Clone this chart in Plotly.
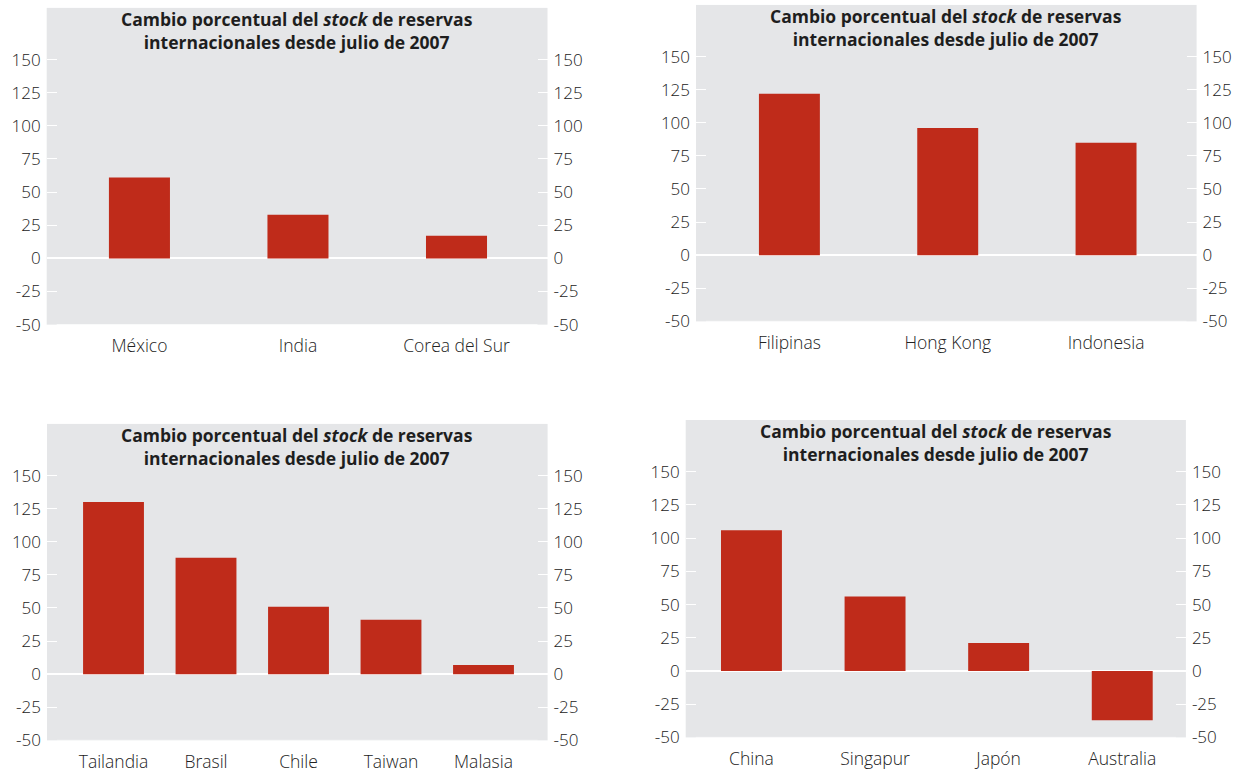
import plotly.graph_objects as go

# Percentage change in the stock of international reserves since July 2007
paises_1 = ["México", "India", "Corea del Sur"]
valores_1 = [61, 33, 17]

paises_2 = ["Filipinas", "Hong Kong", "Indonesia"]
valores_2 = [122, 96, 85]

paises_3 = ["Tailandia", "Brasil", "Chile", "Taiwan", "Malasia"]
valores_3 = [130, 88, 51, 41, 7]

paises_4 = ["China", "Singapur", "Japón", "Australia"]
valores_4 = [106, 56, 21, -37]

ticks_y = [-50, -25, 0, 25, 50, 75, 100, 125, 150]
ticks_y_txt = ["-50", "-25", "0", "25", "50", "75", "100", "125", "150"]
titulo = ("<b>Cambio porcentual del <i>stock</i> de reservas<br>"
          "internacionales desde julio de 2007</b>")

W, H = 1244, 777
BAR = "#BF2B1A"
BG = "#E5E6E8"
TXT = "#222222"
TICK_FONT = dict(family="Open Sans", size=17, color=TXT, weight=300)
CAT_FONT = dict(family="Open Sans", size=17.5, color=TXT, weight=300)
TITLE_FONT = dict(family="Open Sans", size=17.5, color="#1e1e1e")

paneles = [
    # data, pixel box (left, top, right, bottom), x range, bar width
    (paises_1, valores_1, (46.7, 8, 547.5, 329.3), [-0.585, 2.574], 0.385),
    (paises_2, valores_2, (696, 5, 1196.6, 326), [-0.59, 2.572], 0.385),
    (paises_3, valores_3, (47, 430, 547.6, 751), [-0.719, 4.693], 0.658),
    (paises_4, valores_4, (685.7, 426, 1185.9, 748), [-0.532, 3.515], 0.493),
]

fig = go.Figure()
layout = {}

for i, (cats, vals, box, xr, bw) in enumerate(paneles, start=1):
    left, top, right, bottom = box
    w, h = right - left, bottom - top
    xdom = [left / W, right / W]
    ydom = [1 - bottom / H, 1 - top / H]
    xa = "x" if i == 1 else f"x{i}"
    ya = "y" if i == 1 else f"y{i}"
    ya_r = f"y{i + 4}"

    fig.add_trace(go.Bar(x=cats, y=vals, width=bw, marker_color=BAR,
                         marker_line_width=0, xaxis=xa, yaxis=ya,
                         showlegend=False))
    # companion trace so the right-hand axis is drawn
    fig.add_trace(go.Scatter(x=cats, y=vals, mode="markers",
                             marker=dict(opacity=0), hoverinfo="skip",
                             xaxis=xa, yaxis=ya_r, showlegend=False))

    layout["xaxis" if i == 1 else f"xaxis{i}"] = dict(
        domain=xdom, anchor=ya, range=xr, type="category",
        showgrid=False, zeroline=False, showline=False, ticks="",
        ticklabelstandoff=9, tickfont=CAT_FONT, fixedrange=True)
    yax = dict(range=[-50, 189], tickvals=ticks_y, ticktext=ticks_y_txt,
               ticks="inside", ticklen=10, tickwidth=1.2, tickcolor="white",
               ticklabelstandoff=5, showgrid=False, showline=False,
               tickfont=TICK_FONT, fixedrange=True)
    layout["yaxis" if i == 1 else f"yaxis{i}"] = dict(
        yax, domain=ydom, anchor=xa, side="left",
        zeroline=True, zerolinecolor="white", zerolinewidth=2)
    layout[f"yaxis{i + 4}"] = dict(
        yax, anchor=xa, overlaying=ya, side="right", zeroline=False)

    # thin white base line between the inner tick ends
    fig.add_shape(type="line", xref=f"{xa} domain", yref=ya,
                  x0=10 / w, x1=1 - 10 / w, y0=-50, y1=-50,
                  line=dict(color="white", width=1))

    # two-line panel title
    fig.add_annotation(text=titulo, xref=f"{xa} domain", yref=f"{ya} domain",
                       x=0.5, y=1 - 23 / h, xanchor="center",
                       yanchor="middle", showarrow=False, align="center",
                       font=TITLE_FONT)

fig.update_layout(**layout)
fig.update_layout(width=W, height=H, margin=dict(l=0, r=0, t=0, b=0),
                  paper_bgcolor="white", plot_bgcolor=BG)

fig.write_html("out.html")
